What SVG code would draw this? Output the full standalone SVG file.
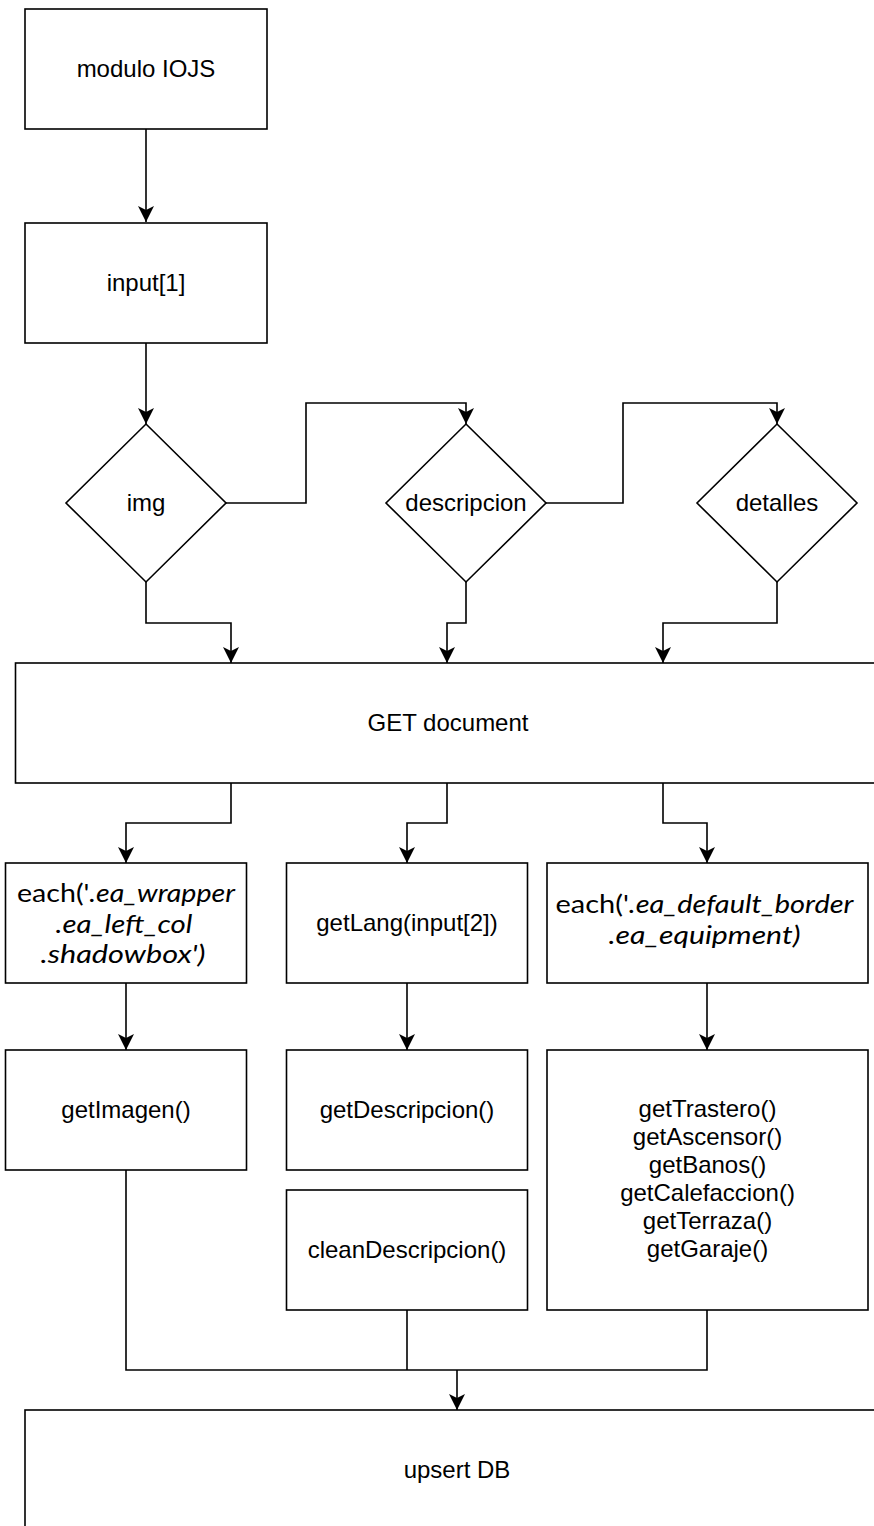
<svg xmlns="http://www.w3.org/2000/svg" width="874" height="1526" viewBox="0 0 874 1526">
  <style>
    .box { fill: #ffffff; stroke: #000000; stroke-width: 1.6; }
    .edge { fill: none; stroke: #000000; stroke-width: 1.6; }
    .lbl { font-family: "Liberation Sans", Arial, sans-serif; font-size: 24px; fill: #000000; text-anchor: middle; }
    .sel { font-family: Lato, "Open Sans", sans-serif; font-size: 25px; fill: #000000; text-anchor: middle; }
    .it { font-style: italic; }
  </style>
  <defs>
    <marker id="arrow" markerUnits="userSpaceOnUse" viewBox="0 0 16 16" refX="16" refY="8" markerWidth="16" markerHeight="16" orient="auto">
      <path d="M0,0 L16,8 L0,16 L4,8 Z" fill="#000000"/>
    </marker>
  </defs>

  <rect x="0" y="0" width="874" height="1526" fill="#ffffff"/>

  <!-- connectors -->
  <g id="connectors">
    <path class="edge" d="M146,129 L146,222" marker-end="url(#arrow)"/>
    <path class="edge" d="M146,343 L146,424" marker-end="url(#arrow)"/>
    <path class="edge" d="M226,503 L306,503 L306,403 L466,403 L466,424" marker-end="url(#arrow)"/>
    <path class="edge" d="M546,503 L623,503 L623,403 L777,403 L777,424" marker-end="url(#arrow)"/>
    <path class="edge" d="M146,582 L146,623 L231,623 L231,663" marker-end="url(#arrow)"/>
    <path class="edge" d="M466,582 L466,623 L447,623 L447,663" marker-end="url(#arrow)"/>
    <path class="edge" d="M777,582 L777,623 L663,623 L663,663" marker-end="url(#arrow)"/>
    <path class="edge" d="M231,783 L231,823 L126,823 L126,863" marker-end="url(#arrow)"/>
    <path class="edge" d="M447,783 L447,823 L407,823 L407,863" marker-end="url(#arrow)"/>
    <path class="edge" d="M663,783 L663,823 L707,823 L707,863" marker-end="url(#arrow)"/>
    <path class="edge" d="M126,983 L126,1050" marker-end="url(#arrow)"/>
    <path class="edge" d="M407,983 L407,1050" marker-end="url(#arrow)"/>
    <path class="edge" d="M707,983 L707,1050" marker-end="url(#arrow)"/>
    <path class="edge" d="M126,1170 L126,1370 L707,1370 L707,1310"/>
    <path class="edge" d="M407,1310 L407,1370"/>
    <path class="edge" d="M457,1370 L457,1410" marker-end="url(#arrow)"/>
  </g>

  <g id="modulo">
    <rect class="box" x="25" y="9" width="242" height="120"/>
    <text class="lbl" x="146" y="77">modulo IOJS</text>
  </g>

  <g id="input1">
    <rect class="box" x="25" y="223" width="242" height="120"/>
    <text class="lbl" x="146" y="291">input[1]</text>
  </g>

  <g id="img">
    <polygon class="box" points="146,424 226,503 146,582 66,503"/>
    <text class="lbl" x="146" y="511">img</text>
  </g>

  <g id="descripcion">
    <polygon class="box" points="466,424 546,503 466,582 386,503"/>
    <text class="lbl" x="466" y="511">descripcion</text>
  </g>

  <g id="detalles">
    <polygon class="box" points="777,424 857,503 777,582 697,503"/>
    <text class="lbl" x="777" y="511">detalles</text>
  </g>

  <g id="get-document">
    <rect class="box" x="15.5" y="663" width="866" height="120"/>
    <text class="lbl" x="448" y="731">GET document</text>
  </g>

  <g id="each-wrapper">
    <rect class="box" x="5.5" y="863" width="241" height="120"/>
    <text class="sel" x="126" y="902" textLength="218" lengthAdjust="spacingAndGlyphs">each('<tspan class="it">.ea_wrapper</tspan></text>
    <text class="sel it" x="124" y="933" textLength="137" lengthAdjust="spacingAndGlyphs">.ea_left_col</text>
    <text class="sel it" x="123" y="963" textLength="165" lengthAdjust="spacingAndGlyphs">.shadowbox')</text>
  </g>

  <g id="getlang">
    <rect class="box" x="286.5" y="863" width="241" height="120"/>
    <text class="lbl" x="407" y="931">getLang(input[2])</text>
  </g>

  <g id="each-equipment">
    <rect class="box" x="547" y="863" width="321" height="120"/>
    <text class="sel" x="704.5" y="913" textLength="298" lengthAdjust="spacingAndGlyphs">each('<tspan class="it">.ea_default_border</tspan></text>
    <text class="sel it" x="704.5" y="944" textLength="192" lengthAdjust="spacingAndGlyphs">.ea_equipment)</text>
  </g>

  <g id="getimagen">
    <rect class="box" x="5.5" y="1050" width="241" height="120"/>
    <text class="lbl" x="126" y="1118">getImagen()</text>
  </g>

  <g id="getdescripcion">
    <rect class="box" x="286.5" y="1050" width="241" height="120"/>
    <text class="lbl" x="407" y="1118">getDescripcion()</text>
  </g>

  <g id="cleandescripcion">
    <rect class="box" x="286.5" y="1190" width="241" height="120"/>
    <text class="lbl" x="407" y="1258">cleanDescripcion()</text>
  </g>

  <g id="detalles-getters">
    <rect class="box" x="547" y="1050" width="321" height="260"/>
    <text class="lbl" x="707.5" y="1117">getTrastero()</text>
    <text class="lbl" x="707.5" y="1145">getAscensor()</text>
    <text class="lbl" x="707.5" y="1173">getBanos()</text>
    <text class="lbl" x="707.5" y="1201">getCalefaccion()</text>
    <text class="lbl" x="707.5" y="1229">getTerraza()</text>
    <text class="lbl" x="707.5" y="1257">getGaraje()</text>
  </g>

  <g id="upsert">
    <rect class="box" x="25" y="1410" width="864" height="130"/>
    <text class="lbl" x="457" y="1478">upsert DB</text>
  </g>
</svg>
